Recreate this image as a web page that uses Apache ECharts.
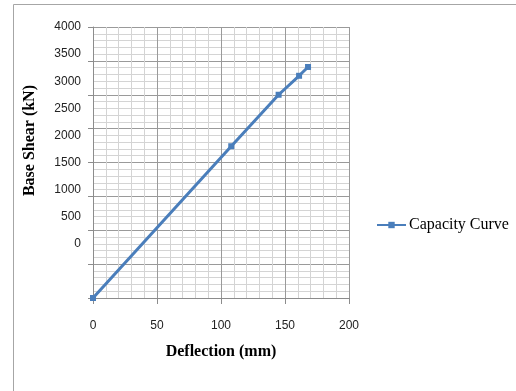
<!DOCTYPE html>
<html>
<head>
<meta charset="utf-8">
<title>Capacity Curve</title>
<script src="https://cdn.jsdelivr.net/npm/echarts@6/dist/echarts.min.js"></script>
<style>
html, body { margin: 0; padding: 0; background: #fff; }
#main { width: 516px; height: 391px; }
</style>
</head>
<body>
<div id="main"></div>
<script>
// data
var deflection = [0, 108, 145, 161, 168];
var baseShear = [0, 2240, 3000, 3280, 3410];
var xTicks = [0, 50, 100, 150, 200];
var yTicks = [0, 500, 1000, 1500, 2000, 2500, 3000, 3500, 4000];
var seriesName = 'Capacity Curve';

var points = [];
for (var i = 0; i < deflection.length; i++) {
	points.push([deflection[i], baseShear[i]]);
}

var myChart = echarts.init(document.getElementById('main'), null, { renderer : 'canvas' });

var option = {
	backgroundColor : '#fff',
	animation : false,
	// outer frame of the chart area
	graphic : [ {
		type : 'rect',
		shape : { x : 13.5, y : 4.5, width : 600, height : 500 },
		style : { fill : 'none', stroke : '#a6a6a6', lineWidth : 1 }
	}, {
		type : 'text',
		left : 22,
		top : 85,
		rotation : Math.PI / 2,
		style : {
			text : 'Base Shear (kN)',
			font : 'bold 16px "Liberation Serif"',
			fill : '#000'
		}
	} ],
	legend : {
		left : 371,
		top : 212,
		itemWidth : 29,
		itemHeight : 8,
		itemGap : 2,
		textStyle : { fontFamily : 'Liberation Serif', fontSize : 16, color : '#000', padding : [0, 0, 0, -2] },
		data : [ seriesName ]
	},
	grid : { left : 93, right : 167, top : 27, bottom : 93 },
	xAxis : {
		type : 'value',
		min : xTicks[0],
		max : xTicks[xTicks.length - 1],
		interval : 50,
		name : 'Deflection (mm)',
		nameLocation : 'middle',
		nameGap : 46,
		nameTextStyle : { fontFamily : 'Liberation Serif', fontWeight : 'bold', fontSize : 16, color : '#000' },
		axisLine : { show : true, lineStyle : { color : '#8c8c8c', width : 1 } },
		axisTick : { show : true, length : 6, lineStyle : { color : '#8c8c8c' } },
		axisLabel : { margin : 22, fontFamily : 'Liberation Sans', fontSize : 12, color : '#222' },
		splitLine : { show : true, lineStyle : { color : '#9a9a9a', width : 1 } },
		minorTick : { show : false, splitNumber : 5 },
		minorSplitLine : { show : true, lineStyle : { color : '#d4d4d4', width : 1 } }
	},
	yAxis : [ {
		// the grid axis (0 - 4000), its labels are hidden
		type : 'value',
		min : yTicks[0],
		max : yTicks[yTicks.length - 1],
		interval : 500,
		axisLine : { show : true, lineStyle : { color : '#8c8c8c', width : 1 } },
		axisTick : { show : true, length : 5, lineStyle : { color : '#8c8c8c' } },
		axisLabel : { show : false },
		splitLine : { show : true, lineStyle : { color : '#9a9a9a', width : 1 } },
		minorTick : { show : false, splitNumber : 5 },
		minorSplitLine : { show : true, lineStyle : { color : '#d4d4d4', width : 1 } }
	}, {
		// label axis: the labels in the picture sit on a tighter spacing
		type : 'value',
		position : 'left',
		min : -1000,
		max : 4000,
		interval : 500,
		axisLine : { show : false },
		axisTick : { show : false },
		splitLine : { show : false },
		axisLabel : {
			margin : 12,
			fontFamily : 'Liberation Sans',
			fontSize : 12,
			color : '#222',
			formatter : function(v) {
				return v < 0 ? '' : String(v);
			}
		}
	} ],
	series : [ {
		name : seriesName,
		type : 'line',
		yAxisIndex : 0,
		data : points,
		symbol : 'rect',
		symbolSize : 6,
		showAllSymbol : true,
		color : '#4a7ebb',
		lineStyle : { color : '#4a7ebb', width : 3 },
		itemStyle : { color : '#4a7ebb' }
	} ]
};

myChart.setOption(option);
</script>
</body>
</html>
